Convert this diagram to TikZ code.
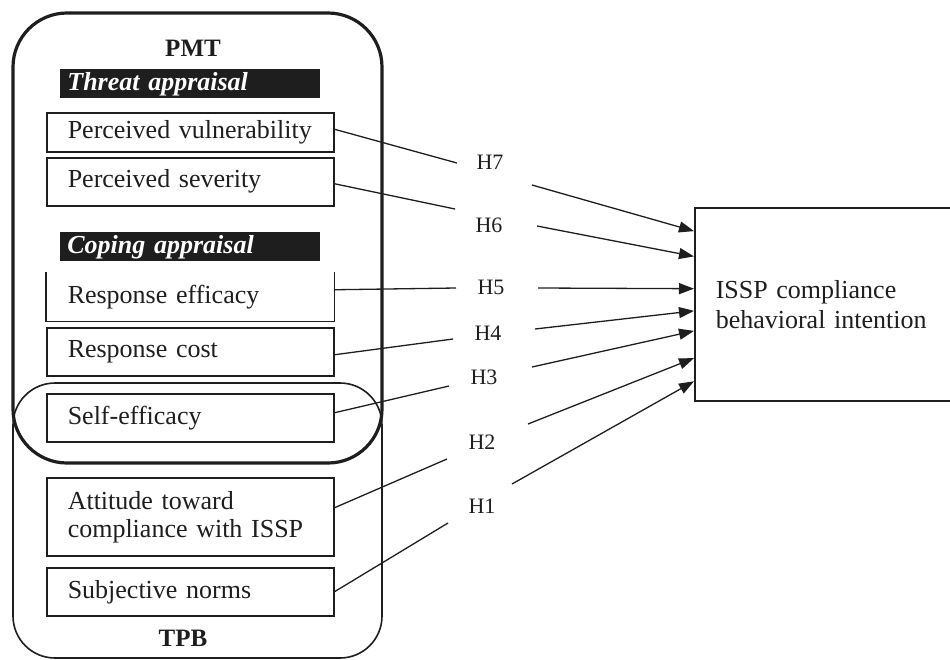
\documentclass[tikz,border=0pt]{standalone}
\usepackage{fontspec}
\setmainfont{Liberation Serif}
\usetikzlibrary{arrows.meta,calc}
\definecolor{ink}{HTML}{1E1E1E}
\begin{document}
\begin{tikzpicture}[x=0.5pt,y=-0.5pt,
  construct/.style={draw=ink, line width=0.75pt, anchor=north west,
    minimum width=143.5pt, minimum height=24pt, inner xsep=10.5pt, inner ysep=0pt,
    text width=122.5pt, align=left, text=ink, font=\fontsize{13}{14}\selectfont},
  header/.style={fill=ink, anchor=north west, minimum width=130pt, minimum height=14.5pt,
    inner xsep=3.5pt, inner ysep=0pt, text width=123pt, align=left, text=white,
    font=\fontsize{13}{14}\selectfont\bfseries\itshape},
  theory/.style={text=ink, font=\fontsize{12.5}{14}\selectfont\bfseries},
  hyp/.style={text=ink, font=\fontsize{11}{12}\selectfont, inner sep=1pt},
  link/.style={draw=ink, line width=0.65pt},
  arrow/.style={link, -{Triangle[length=7.5pt,width=5.5pt]}}]
\useasboundingbox (0,0) rectangle (950,660);
\clip (0,0) rectangle (950,660);

% theory frames
\draw[ink, line width=0.8pt, rounded corners=21pt] (13,383) rectangle (382,658);
\draw[ink, line width=1.6pt, rounded corners=27pt] (13,13) rectangle (382,463);
\node[theory] (pmt) at (193,48) {PMT};
\node[theory] (tpb) at (183,638) {TPB};

% appraisal headers
\node[header] (threat) at (60,69) {Threat appraisal};
\node[header] (coping) at (60,232) {Coping appraisal};

% constructs
\node[construct, minimum height=19.5pt] (pv) at (46,112) {Perceived vulnerability};
\node[construct] (ps) at (46,157) {Perceived severity};
\node[construct, draw=none] (re) at (46,272) {Response efficacy};
\draw[ink, line width=0.75pt] (re.north west) -- (re.south west) -- (re.south east) -- (re.north east);
\node[construct] (rc) at (46,327) {Response cost};
\node[construct] (se) at (46,393) {Self-efficacy};
\node[construct, minimum height=39pt] (at) at (46,477) {Attitude toward\\compliance with ISSP};
\node[construct] (sn) at (46,567) {Subjective norms};

% outcome
\node[draw=ink, line width=0.75pt, anchor=north west, minimum width=128.5pt, minimum height=96.5pt,
  inner xsep=10.5pt, text width=107.5pt, align=left, text=ink,
  font=\fontsize{13}{15}\selectfont] (tgt) at (694,207) {ISSP compliance\\behavioral intention};

% hypothesis labels
\node[hyp] (h7) at (490,162) {H7};
\node[hyp] (h6) at (489,225) {H6};
\node[hyp] (h5) at (491,287) {H5};
\node[hyp] (h4) at (488,333) {H4};
\node[hyp] (h3) at (484,377) {H3};
\node[hyp] (h2) at (482,442) {H2};
\node[hyp] (h1) at (482,506) {H1};

% line ends beside the labels
\coordinate (h7a) at (457,163); \coordinate (h7b) at (532,185);
\coordinate (h6a) at (455,209); \coordinate (h6b) at (537,226);
\coordinate (h5a) at (456,288); \coordinate (h5b) at (538,288);
\coordinate (h4a) at (453,339); \coordinate (h4b) at (535,329);
\coordinate (h3a) at (449,386); \coordinate (h3b) at (532,367);
\coordinate (h2a) at (447,459); \coordinate (h2b) at (528,424);
\coordinate (h1a) at (448,523); \coordinate (h1b) at (512,484);

% paths
\draw[link] ($(pv.east)+(0,-3)$) -- (h7a);
\draw[arrow] (h7b) -- ($(tgt.north west)!0.124!(tgt.south west)$);
\draw[link] ($(ps.east)+(0,2)$) -- (h6a);
\draw[arrow] (h6b) -- ($(tgt.north west)!0.254!(tgt.south west)$);
\draw[link] ($(re.east)+(0,-7)$) -- (h5a);
\draw[arrow] (h5b) -- ($(tgt.north west)!0.420!(tgt.south west)$);
\draw[link] ($(rc.east)+(0,3)$) -- (h4a);
\draw[arrow] (h4b) -- ($(tgt.north west)!0.534!(tgt.south west)$);
\draw[link] ($(se.east)+(0,-5)$) -- (h3a);
\draw[arrow] (h3b) -- ($(tgt.north west)!0.637!(tgt.south west)$);
\draw[link] ($(at.east)+(0,-9)$) -- (h2a);
\draw[arrow] (h2b) -- ($(tgt.north west)!0.777!(tgt.south west)$);
\draw[link] (sn.east) -- (h1a);
\draw[arrow] (h1b) -- ($(tgt.north west)!0.896!(tgt.south west)$);
\end{tikzpicture}
\end{document}
